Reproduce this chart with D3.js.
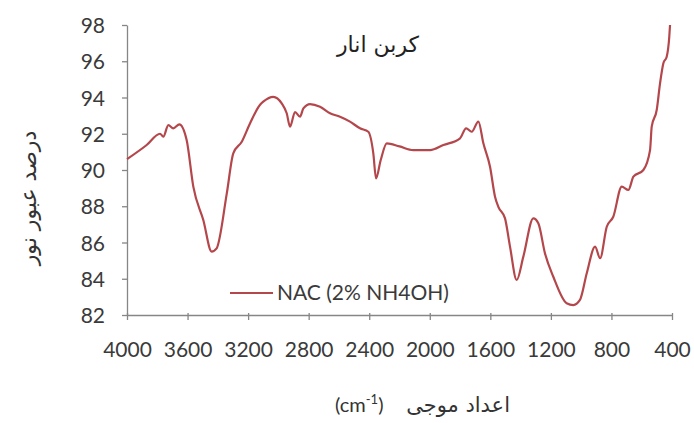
<!DOCTYPE html>
<html><head><meta charset="utf-8">
<script src="https://cdn.jsdelivr.net/npm/d3@7"></script>
<style>body{margin:0;background:#fff}</style>
</head><body>
<svg id="c" width="694" height="423"></svg>
<script>
const wavenumber = [4000,3870,3782,3760,3727,3694,3654,3606,3562,3496,3441,3408,3341,3298,3242,3187,3121,3100,3034,2978,2945,2923,2890,2857,2835,2791,2725,2659,2593,2527,2461,2406,2373,2355,2324,2284,2200,2109,1998,1910,1800,1760,1723,1679,1646,1602,1569,1547,1503,1470,1426,1382,1316,1283,1239,1184,1096,1052,1008,963,908,875,831,788,732,688,655,589,545,534,501,479,457,435,418,413];
const transmittance = [90.6,91.38,92.0,91.84,92.48,92.3,92.52,91.65,89.08,87.24,85.5,85.68,88.7,90.92,91.56,92.58,93.6,93.77,94.04,93.68,93.13,92.39,93.2,92.94,93.4,93.64,93.49,93.13,92.94,92.67,92.3,92.11,90.92,89.54,90.55,91.47,91.3,91.1,91.1,91.38,91.75,92.3,92.11,92.67,91.47,90.18,88.53,87.97,87.33,85.77,83.93,85.22,87.33,87.06,85.4,84.11,82.65,82.55,82.83,84.3,85.77,85.13,86.87,87.42,89.08,88.9,89.63,90.0,91.1,92.39,93.31,94.78,95.89,96.25,97.35,98.0];
const xTicks = [4000,3600,3200,2800,2400,2000,1600,1200,800,400];
const yTicks = [82,84,86,88,90,92,94,96,98];
const seriesName = "NAC (2% NH4OH)";
const title = "كربن انار";
const yTitle = "درصد عبور نور";
const xTitleAr = "اعداد موجی";

const svg = d3.select("#c");
const L=127, R=672, T=25, B=315;
const x = d3.scaleLinear().domain([4000,400]).range([L,R]);
const y = d3.scaleLinear().domain([82,98]).range([B,T]);
const axisCol = "#868686", txtCol = "#3a3a3a";
const numFont = "Lato, 'Open Sans', sans-serif";
const arFont = "'DejaVu Sans', sans-serif";

const gx = svg.append("g").attr("transform",`translate(0,${B})`)
  .call(d3.axisBottom(x).tickValues(xTicks).tickSize(5).tickSizeOuter(0).tickFormat(d3.format("d")));
const gy = svg.append("g").attr("transform",`translate(${L},0)`)
  .call(d3.axisLeft(y).tickValues(yTicks).tickSize(5).tickSizeOuter(0));
[gx,gy].forEach(g=>{
  g.select(".domain").attr("stroke",axisCol).attr("stroke-width",1.3);
  g.selectAll(".tick line").attr("stroke",axisCol).attr("stroke-width",1.3);
  g.selectAll(".tick text").attr("fill",txtCol).attr("font-family",numFont).attr("font-size",21);
});
gx.selectAll(".tick line").attr("y1",-2);
gx.selectAll(".tick text").attr("y",42).attr("dy",0);
gy.selectAll(".tick text").attr("x",-22).attr("dy","0.36em");

const line = d3.line().x((d,i)=>x(wavenumber[i])).y(d=>y(d)).curve(d3.curveMonotoneX);
svg.append("path").datum(transmittance).attr("d",line)
  .attr("fill","none").attr("stroke","#b4474b").attr("stroke-width",2.2).attr("stroke-linejoin","round");

// title
svg.append("text").attr("x",378).attr("y",52).attr("text-anchor","middle")
  .attr("font-family",arFont).attr("font-size",22).attr("fill","#222").text(title);

// legend
svg.append("line").attr("x1",230).attr("x2",273).attr("y1",293).attr("y2",293)
  .attr("stroke","#b4474b").attr("stroke-width",2.2);
svg.append("text").attr("x",277).attr("y",300).attr("font-family",numFont).attr("font-size",21)
  .attr("fill",txtCol).text(seriesName);

// y title
svg.append("text").attr("transform","translate(36,198) rotate(-90)").attr("text-anchor","middle")
  .attr("font-family",arFont).attr("font-size",22).attr("fill","#333").text(yTitle);

// x title
const xt = svg.append("text").attr("x",335).attr("y",412).attr("font-family",numFont).attr("font-size",20).attr("fill","#333");
xt.append("tspan").text("(cm");
xt.append("tspan").attr("dy",-8).attr("font-size",13).text("-1");
xt.append("tspan").attr("dy",8).text(")");
svg.append("text").attr("x",510).attr("y",412).attr("text-anchor","end")
  .attr("font-family",arFont).attr("font-size",21).attr("fill","#333").text(xTitleAr);
</script>
</body></html>
